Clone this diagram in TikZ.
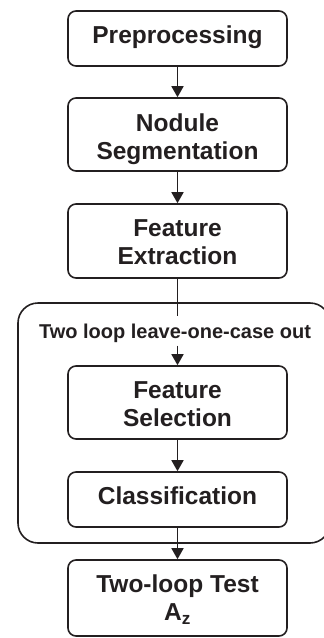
\documentclass[tikz,border=0pt]{standalone}
\usepackage{fontspec}
\setmainfont{Liberation Sans}
\usetikzlibrary{arrows.meta}
\definecolor{ink}{HTML}{231F20}
% lowers the (possibly multi-line) box text without changing its reported size
\newcommand\stagetext[2]{\raisebox{#1}[\height][\depth]{\begin{tabular}{@{}c@{}}#2\end{tabular}}}
\tikzset{
  stagebox/.style={draw=ink, line width=1.6pt, rounded corners=8pt,
    minimum width=219pt, inner sep=0pt, text=ink,
    font=\fontsize{24.5}{28}\selectfont\bfseries},
  loopbox/.style={draw=ink, line width=1.6pt, rounded corners=20pt,
    minimum width=312pt, minimum height=240pt, inner sep=0pt},
  looplabel/.style={text=ink, inner sep=0pt, text height=15pt, text depth=0pt,
    minimum height=29pt, font=\fontsize{20}{24}\selectfont\bfseries},
  flow/.style={draw=ink, line width=1.6pt, -{Triangle[width=12pt,length=11pt]}},
  plain/.style={draw=ink, line width=1.6pt}
}
\begin{document}
\begin{tikzpicture}[x=1pt,y=-1pt]
  \useasboundingbox (0,0) rectangle (324,638);
  \node[loopbox] (loop) at (174,423) {};
  \node[looplabel] (looptitle) at (175,331) {Two loop leave-one-case out};

  \node[stagebox, minimum height=55pt] (pre) at (177.5,38.5) {\stagetext{1pt}{Preprocessing}};
  \node[stagebox, minimum height=73pt] (seg) at (177.5,134.5) {\stagetext{-5pt}{Nodule\\Segmentation}};
  \node[stagebox, minimum height=74pt] (ext) at (177.5,241) {\stagetext{-4pt}{Feature\\Extraction}};
  \node[stagebox, minimum height=73pt] (sel) at (177.5,402.5) {\stagetext{-4pt}{Feature\\Selection}};
  \node[stagebox, minimum height=55pt] (cls) at (177.5,499.5) {\stagetext{1pt}{Classification}};
  \node[stagebox, minimum height=76pt] (test) at (177.5,598) {\stagetext{-3pt}{Two-loop Test\\A\textsubscript{z}}};

  \draw[flow] (pre) -- (seg);
  \draw[flow] (seg) -- (ext);
  \draw[plain] (ext.south) -- (ext.south |- looptitle.north);
  \draw[flow] (ext.south |- looptitle.south) -- (sel.north);
  \draw[flow] (sel) -- (cls);
  \draw[flow] (cls) -- (test);
\end{tikzpicture}
\end{document}
